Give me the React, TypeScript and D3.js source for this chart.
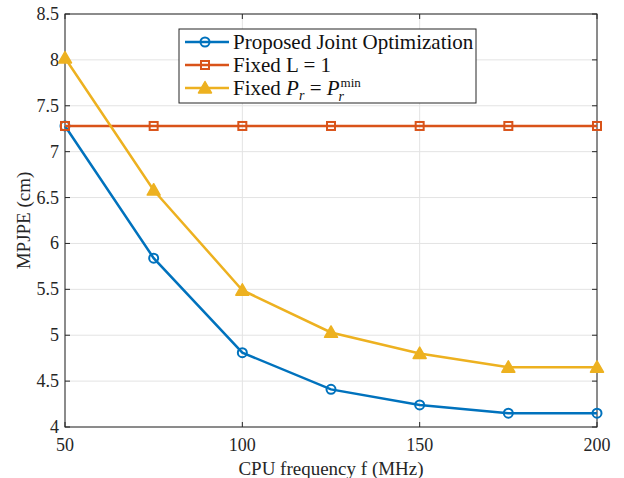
import { useEffect, useRef } from 'react';
import * as d3 from 'd3';

const freqs = [50, 75, 100, 125, 150, 175, 200];
const proposed = [7.28, 5.84, 4.81, 4.41, 4.24, 4.15, 4.15];
const fixedL = [7.28, 7.28, 7.28, 7.28, 7.28, 7.28, 7.28];
const fixedPr = [8.02, 6.58, 5.49, 5.03, 4.80, 4.65, 4.65];
const xTicks = [50, 100, 150, 200];
const yTicks = [4, 4.5, 5, 5.5, 6, 6.5, 7, 7.5, 8, 8.5];

const W = 624;
const H = 478;
const margin = { top: 14, right: 27, bottom: 51, left: 65 };
const FONT = '"Liberation Serif", "Times New Roman", serif';

const App = () => {
  const svgRef = useRef<SVGSVGElement | null>(null);

  useEffect(() => {
    const svg = d3.select(svgRef.current);
    svg.selectAll('*').remove();

    const innerW = W - margin.left - margin.right;
    const innerH = H - margin.top - margin.bottom;

    const x = d3.scaleLinear().domain([50, 200]).range([0, innerW]);
    const y = d3.scaleLinear().domain([4, 8.5]).range([innerH, 0]);

    const g = svg.append('g').attr('transform', `translate(${margin.left},${margin.top})`);

    // grid
    g.selectAll('.gx').data(xTicks).enter().append('line')
      .attr('x1', d => x(d)).attr('x2', d => x(d))
      .attr('y1', 0).attr('y2', innerH)
      .attr('stroke', '#e3e3e3').attr('stroke-width', 1);
    g.selectAll('.gy').data(yTicks).enter().append('line')
      .attr('x1', 0).attr('x2', innerW)
      .attr('y1', d => y(d)).attr('y2', d => y(d))
      .attr('stroke', '#e3e3e3').attr('stroke-width', 1);

    // box
    g.append('rect').attr('width', innerW).attr('height', innerH)
      .attr('fill', 'none').attr('stroke', '#262626').attr('stroke-width', 1);

    // ticks
    const tl = 5;
    xTicks.forEach(t => {
      g.append('line').attr('x1', x(t)).attr('x2', x(t)).attr('y1', innerH).attr('y2', innerH - tl).attr('stroke', '#262626');
      g.append('line').attr('x1', x(t)).attr('x2', x(t)).attr('y1', 0).attr('y2', tl).attr('stroke', '#262626');
      g.append('text').attr('x', x(t)).attr('y', innerH + 24)
        .attr('text-anchor', 'middle').attr('font-family', FONT).attr('font-size', 18)
        .attr('fill', '#262626').text(t);
    });
    yTicks.forEach(t => {
      g.append('line').attr('x1', 0).attr('x2', tl).attr('y1', y(t)).attr('y2', y(t)).attr('stroke', '#262626');
      g.append('line').attr('x1', innerW).attr('x2', innerW - tl).attr('y1', y(t)).attr('y2', y(t)).attr('stroke', '#262626');
      g.append('text').attr('x', -6).attr('y', y(t) + 6)
        .attr('text-anchor', 'end').attr('font-family', FONT).attr('font-size', 18)
        .attr('fill', '#262626').text(t);
    });

    // axis labels
    svg.append('text').attr('x', margin.left + innerW / 2).attr('y', 475)
      .attr('text-anchor', 'middle').attr('font-family', FONT).attr('font-size', 19)
      .attr('fill', '#262626').text('CPU frequency f (MHz)');
    svg.append('text').attr('transform', `translate(30,${margin.top + innerH / 2}) rotate(-90)`)
      .attr('text-anchor', 'middle').attr('font-family', FONT).attr('font-size', 19)
      .attr('fill', '#262626').text('MPJPE (cm)');

    const series = [
      { label: 'Proposed', values: proposed, color: '#0072BD', marker: 'circle' },
      { label: 'FixedL', values: fixedL, color: '#D95319', marker: 'square' },
      { label: 'FixedPr', values: fixedPr, color: '#EDB120', marker: 'triangle' },
    ];

    const line = d3.line<number>().x((_, i) => x(freqs[i])).y(d => y(d));

    const drawMarker = (sel: any, kind: string, color: string, cx: number, cy: number) => {
      if (kind === 'circle') {
        sel.append('circle').attr('cx', cx).attr('cy', cy).attr('r', 4.5)
          .attr('fill', 'none').attr('stroke', color).attr('stroke-width', 2);
      } else if (kind === 'square') {
        sel.append('rect').attr('x', cx - 4).attr('y', cy - 4).attr('width', 8).attr('height', 8)
          .attr('fill', 'none').attr('stroke', color).attr('stroke-width', 2);
      } else {
        const s = 6.5;
        sel.append('path')
          .attr('d', `M${cx},${cy - s} L${cx + s},${cy + s * 0.75} L${cx - s},${cy + s * 0.75} Z`)
          .attr('fill', color).attr('stroke', color).attr('stroke-width', 1.5)
          .attr('stroke-linejoin', 'round');
      }
    };

    series.forEach(s => {
      g.append('path').datum(s.values).attr('d', line)
        .attr('fill', 'none').attr('stroke', s.color).attr('stroke-width', 2.5);
      s.values.forEach((v, i) => drawMarker(g, s.marker, s.color, x(freqs[i]), y(v)));
    });

    // legend
    const lg = svg.append('g').attr('transform', 'translate(179,29)');
    lg.append('rect').attr('width', 297).attr('height', 74)
      .attr('fill', 'white').attr('stroke', '#262626').attr('stroke-width', 1);
    const rows = [13, 36, 59];
    series.forEach((s, i) => {
      const ry = rows[i];
      lg.append('line').attr('x1', 6).attr('x2', 50).attr('y1', ry).attr('y2', ry)
        .attr('stroke', s.color).attr('stroke-width', 2.5);
      drawMarker(lg, s.marker, s.color, 26, ry);
    });
    const txt = (ry: number) => lg.append('text').attr('x', 54).attr('y', ry + 6.5)
      .attr('font-family', FONT).attr('font-size', 21).attr('fill', '#111');
    txt(rows[0]).text('Proposed Joint Optimization');
    txt(rows[1]).text('Fixed L = 1');
    const t3 = txt(rows[2]);
    t3.append('tspan').text('Fixed ');
    t3.append('tspan').attr('font-style', 'italic').text('P');
    t3.append('tspan').attr('font-style', 'italic').attr('font-size', 14).attr('dy', 5).text('r');
    t3.append('tspan').attr('dy', -5).text(' = ');
    t3.append('tspan').attr('font-style', 'italic').text('P');
    // superscript "min" with subscript "r" stacked beneath it
    const t3node = t3.node() as SVGTextElement;
    const endX = 54 + t3node.getComputedTextLength() + 1;
    lg.append('text').attr('x', endX).attr('y', rows[2] - 1)
      .attr('font-family', FONT).attr('font-size', 13).attr('fill', '#111').text('min');
    lg.append('text').attr('x', endX - 2).attr('y', rows[2] + 13)
      .attr('font-family', FONT).attr('font-style', 'italic').attr('font-size', 14).attr('fill', '#111').text('r');
  }, []);

  return <svg ref={svgRef} width={W} height={H} style={{ position: 'absolute', left: 0, top: 0, background: 'white' }} />;
};

export default App;
